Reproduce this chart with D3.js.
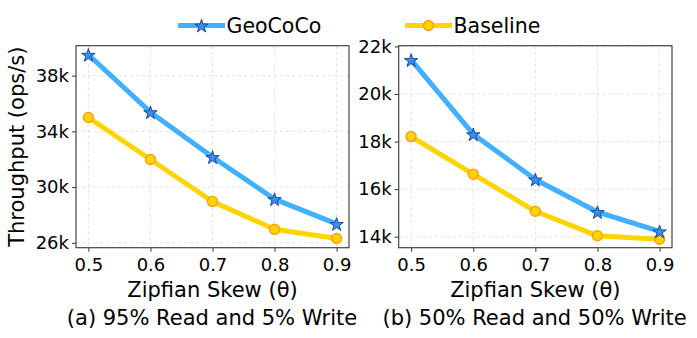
<!DOCTYPE html>
<html>
<head>
<meta charset="utf-8">
<script src="https://cdn.jsdelivr.net/npm/d3@7"></script>
<style>
  body { margin: 0; background: #fff; }
  svg { font-family: "DejaVu Sans", sans-serif; }
</style>
</head>
<body>
<svg id="chart" width="697" height="338"></svg>
<script>
"use strict";

// data
const skews = [0.5, 0.6, 0.7, 0.8, 0.9];
const geoReadHeavy = [39500, 35380, 32160, 29140, 27360];
const baseReadHeavy = [35000, 31980, 28970, 26970, 26310];
const geoBalanced = [21430, 18310, 16410, 15040, 14230];
const baseBalanced = [18210, 16630, 15070, 14040, 13900];
const ticksReadHeavy = [26000, 30000, 34000, 38000];
const ticksBalanced = [14000, 16000, 18000, 20000, 22000];
const subtitles = ["(a) 95% Read and 5% Write", "(b) 50% Read and 50% Write"];

const blue = "#40b0ff";
const gold = "#ffd400";

const svg = d3.select("#chart");

const panels = [
  { left: 76, right: 349, yDomain: [25650, 40150], ticks: ticksReadHeavy,
    geo: geoReadHeavy, base: baseReadHeavy, title: subtitles[0] },
  { left: 398.7, right: 672, yDomain: [13540, 22030], ticks: ticksBalanced,
    geo: geoBalanced, base: baseBalanced, title: subtitles[1] }
];
const plotTop = 45.7, plotBottom = 247.7;

const star = d3.symbol().type(d3.symbolStar).size(56);

panels.forEach((p, i) => {
  const x = d3.scaleLinear().domain([0.48, 0.92]).range([p.left, p.right]);
  const y = d3.scaleLinear().domain(p.yDomain).range([plotBottom, plotTop]);
  const g = svg.append("g");

  // grid
  g.selectAll(".gx").data(skews).enter().append("line")
    .attr("x1", d => x(d)).attr("x2", d => x(d))
    .attr("y1", plotTop).attr("y2", plotBottom)
    .attr("stroke", "#dcdcdc").attr("stroke-width", 0.8)
    .attr("stroke-dasharray", "3,3");
  g.selectAll(".gy").data(p.ticks).enter().append("line")
    .attr("x1", p.left).attr("x2", p.right)
    .attr("y1", d => y(d)).attr("y2", d => y(d))
    .attr("stroke", "#dcdcdc").attr("stroke-width", 0.8)
    .attr("stroke-dasharray", "3,3");

  // axes
  const xAxis = g.append("g")
    .attr("transform", `translate(0,${plotBottom})`)
    .call(d3.axisBottom(x).tickValues(skews).tickFormat(d3.format(".1f"))
      .tickSize(4).tickPadding(7).tickSizeOuter(0));
  const yAxis = g.append("g")
    .attr("transform", `translate(${p.left},0)`)
    .call(d3.axisLeft(y).tickValues(p.ticks).tickFormat(d => d / 1000 + "k")
      .tickSize(4).tickPadding(3).tickSizeOuter(0));
  [xAxis, yAxis].forEach(a => {
    a.select(".domain").remove();
    a.selectAll("line").attr("stroke", "#333");
    a.selectAll("text").attr("font-size", 18).attr("fill", "#000")
      .attr("font-family", "DejaVu Sans");
  });

  // frame
  g.append("rect")
    .attr("x", p.left).attr("y", plotTop)
    .attr("width", p.right - p.left).attr("height", plotBottom - plotTop)
    .attr("fill", "none").attr("stroke", "#444").attr("stroke-width", 1.2);

  const line = d3.line().x((d, j) => x(skews[j])).y(d => y(d));

  // baseline
  g.append("path").datum(p.base)
    .attr("d", line).attr("fill", "none")
    .attr("stroke", gold).attr("stroke-width", 5)
    .attr("stroke-linejoin", "round");
  g.selectAll(".bdot").data(p.base).enter().append("circle")
    .attr("cx", (d, j) => x(skews[j])).attr("cy", d => y(d))
    .attr("r", 5).attr("fill", gold)
    .attr("stroke", "#ff9f1a").attr("stroke-width", 1.5);

  // geococo
  g.append("path").datum(p.geo)
    .attr("d", line).attr("fill", "none")
    .attr("stroke", blue).attr("stroke-width", 5)
    .attr("stroke-linejoin", "round");
  g.selectAll(".gstar").data(p.geo).enter().append("path")
    .attr("d", star)
    .attr("transform", (d, j) => `translate(${x(skews[j])},${y(d) + 0.8})`)
    .attr("fill", "#3a8fe8").attr("stroke", "#1f4a9c").attr("stroke-width", 1);

  // labels
  const cx = (p.left + p.right) / 2;
  g.append("text").attr("x", cx).attr("y", 297)
    .attr("text-anchor", "middle").attr("font-size", 21)
    .text("Zipfian Skew (θ)");
  g.append("text").attr("x", cx - (i === 0 ? 0.5 : 0.8)).attr("y", 325)
    .attr("text-anchor", "middle").attr("font-size", 21)
    .text(p.title);
});

// y label
svg.append("text")
  .attr("transform", "translate(23.5,146.7) rotate(-90)")
  .attr("text-anchor", "middle").attr("font-size", 21)
  .text("Throughput (ops/s)");

// legend
const legend = [
  { name: "GeoCoCo", x0: 178, color: blue, mark: "star" },
  { name: "Baseline", x0: 405, color: gold, mark: "circle" }
];
legend.forEach(l => {
  const lg = svg.append("g").attr("transform", `translate(${l.x0},25.5)`);
  lg.append("line").attr("x1", 0).attr("x2", 47)
    .attr("stroke", l.color).attr("stroke-width", 5);
  if (l.mark === "star") {
    lg.append("path").attr("d", star).attr("transform", "translate(23.5,0.8)")
      .attr("fill", "#3a8fe8").attr("stroke", "#1f4a9c").attr("stroke-width", 1);
  } else {
    lg.append("circle").attr("cx", 23.5).attr("r", 5)
      .attr("fill", gold).attr("stroke", "#ff9f1a").attr("stroke-width", 1.5);
  }
  lg.append("text").attr("x", 48.5).attr("y", 7)
    .attr("font-size", 20.5).text(l.name);
});
</script>
</body>
</html>
